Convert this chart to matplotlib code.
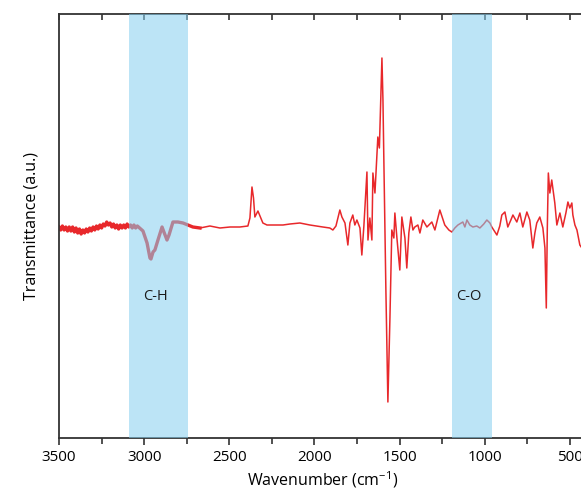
import matplotlib.pyplot as plt
from matplotlib.ticker import MultipleLocator

plt.rcParams['font.family'] = ['Open Sans', 'DejaVu Sans']

# FTIR spectrum (wavenumber, transmittance in a.u.)
wavenumber = [3500, 3490, 3480, 3470, 3460, 3450, 3440, 3430, 3420, 3410, 3400, 3390, 3380, 3370,
              3360, 3350, 3340, 3330, 3320, 3310, 3300, 3290, 3280, 3270, 3260, 3250, 3240, 3230,
              3220, 3210, 3200, 3190, 3180, 3170, 3160, 3150, 3140, 3130, 3120, 3110, 3100, 3090,
              3080, 3070, 3060, 3050, 3040, 3007, 2983, 2966, 2960, 2948, 2937, 2919, 2895, 2884,
              2866, 2854, 2831, 2802, 2772, 2743, 2714, 2672, 2614, 2555, 2496, 2438, 2391, 2379,
              2367, 2358, 2350, 2332, 2320, 2303, 2279, 2232, 2185, 2144, 2086, 2027, 1951, 1910,
              1892, 1874, 1851, 1839, 1821, 1804, 1792, 1775, 1763, 1751, 1733, 1722, 1710, 1692,
              1686, 1675, 1663, 1657, 1645, 1628, 1619, 1604, 1598, 1593, 1581, 1569, 1557, 1546,
              1534, 1528, 1516, 1499, 1487, 1469, 1458, 1446, 1434, 1422, 1411, 1393, 1381, 1364,
              1340, 1311, 1293, 1264, 1235, 1211, 1194, 1176, 1158, 1129, 1117, 1105, 1088, 1070,
              1047, 1029, 1006, 988, 970, 959, 929, 912, 900, 882, 865, 847, 835, 812, 794, 777,
              753, 736, 718, 706, 695, 677, 659, 647, 639, 633, 627, 618, 607, 589, 577, 559, 542,
              524, 512, 501, 489, 483, 471, 459, 442, 430, 410]
transmittance = [211, 208, 212, 208, 211, 207, 211, 207, 211, 206, 210, 205, 209, 204,
                 208, 205, 209, 206, 210, 207, 211, 208, 212, 209, 213, 210, 214, 212,
                 216, 213, 215, 211, 214, 210, 213, 209, 213, 210, 213, 210, 214, 211,
                 213, 210, 213, 210, 212, 207, 195, 180, 179, 186, 188, 198, 211, 206,
                 198, 203, 216, 216, 215, 213, 211, 210, 212, 210, 211, 211, 212, 220,
                 251, 240, 221, 227, 222, 215, 213, 213, 213, 214, 215, 213, 211, 210,
                 208, 212, 228, 221, 215, 193, 215, 223, 213, 218, 210, 183, 212, 266,
                 198, 220, 198, 265, 245, 301, 290, 380, 338, 281, 150, 36, 120, 208,
                 200, 225, 200, 168, 221, 200, 170, 205, 221, 208, 211, 213, 205, 218,
                 211, 216, 208, 228, 213, 208, 206, 210, 213, 216, 211, 218, 213, 211,
                 212, 210, 214, 218, 215, 211, 203, 212, 223, 226, 211, 218, 223, 216, 225, 211,
                 226, 218, 190, 205, 215, 221, 210, 190, 130, 210, 265, 245, 258, 235, 213, 225, 211,
                 225, 236, 230, 235, 223, 213, 208, 193, 190, 200]

bands = [(3089, 2743), (1190, 960)]
band_labels = ['C-H', 'C-O']
label_pos = [2931, 1094]
noisy_end = 2700  # the high-wavenumber part is drawn as a thick noisy trace

fig = plt.figure(figsize=(5.81, 5.0), dpi=100)
ax = fig.add_axes([59 / 581, 62 / 500, 528 / 581, 424 / 500])

k = next(i for i, w in enumerate(wavenumber) if w < noisy_end)
ax.plot(wavenumber[:k + 1], transmittance[:k + 1], color='#e8282b', lw=2.4, zorder=2,
        solid_joinstyle='round')
ax.plot(wavenumber[k:], transmittance[k:], color='#e8282b', lw=1.1, zorder=2)
for (a, b) in bands:
    ax.axvspan(a, b, color='#85cff0', alpha=0.55, lw=0, zorder=3)
for lab, x in zip(band_labels, label_pos):
    ax.text(x, 142, lab, ha='center', va='center', fontsize=10.5, color='#1a1a1a', zorder=4)

ax.set_xlim(3500, 400)
ax.set_ylim(0, 424)
ax.set_yticks([])
ax.xaxis.set_major_locator(MultipleLocator(500))
ax.xaxis.set_minor_locator(MultipleLocator(250))
ax.tick_params(axis='x', which='both', direction='out', top=False, labelsize=11,
               color='#333333', width=1.2)
ax.tick_params(axis='x', which='major', length=5)
ax.tick_params(axis='x', which='minor', length=4)
sec = ax.secondary_xaxis('top')
sec.xaxis.set_major_locator(MultipleLocator(250))
sec.tick_params(direction='in', length=4, width=1.2, color='#333333', labeltop=False)
sec.spines['top'].set_visible(False)
for s in ax.spines.values():
    s.set_color('#333333')
    s.set_linewidth(1.3)

ax.set_xlabel('Wavenumber (cm$^{\\mathregular{-1}}$)', fontsize=11.5, labelpad=3)
ax.set_ylabel('Transmittance (a.u.)', fontsize=11.5, labelpad=14)

fig.savefig('out.png', dpi=100)
